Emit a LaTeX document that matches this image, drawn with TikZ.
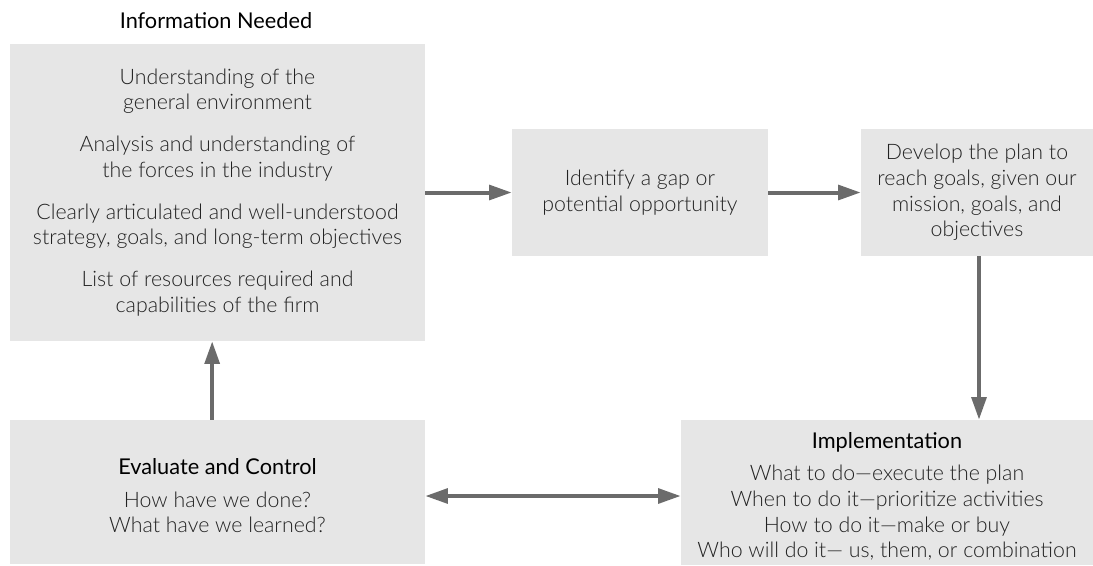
\documentclass[tikz,border=0pt]{standalone}
\usepackage{fontspec}
\setmainfont{Lato}[UprightFont={* Light},BoldFont={*}]
\usetikzlibrary{arrows.meta}
\definecolor{boxfill}{HTML}{E6E6E6}
\definecolor{arrowgray}{HTML}{6B6B6B}
\definecolor{txt}{HTML}{222222}
\tikzset{
  box/.style={fill=boxfill, draw=none, inner sep=0pt, align=center, text=txt,
    font=\fontsize{16pt}{19.2pt}\selectfont},
  flow/.style={draw=arrowgray, line width=3pt, -{Triangle[length=17pt,width=11pt]}},
  flowboth/.style={draw=arrowgray, line width=3pt, {Triangle[length=17pt,width=11pt]}-{Triangle[length=17pt,width=11pt]}},
  heading/.style={font=\fontsize{16.3pt}{19.2pt}\selectfont\bfseries, text=black}
}
\newcommand{\hd}[1]{{\fontsize{16.3pt}{19.2pt}\selectfont\bfseries\color{black}\rule{0pt}{18pt}#1}}
\begin{document}
\begin{tikzpicture}[x=0.75pt,y=-0.75pt]
\useasboundingbox (0,0) rectangle (1093,565);
\node[heading] (title) at (216,21) {Information Needed};
\node[box, minimum width=311.25pt, minimum height=222.75pt] (info) at (217.5,192.5)
 {Understanding of the\\ general environment\\[12.3pt]
  Analysis and understanding of\\ the forces in the industry\\[12.3pt]
  Clearly articulated and well-understood\\ strategy, goals, and long-term objectives\\[12.3pt]
  List of resources required and\\ capabilities of the firm};
\node[box, minimum width=192pt, minimum height=95.25pt] (gap) at (640,192.5)
 {Identify a gap or\\ potential opportunity};
\node[box, minimum width=174pt, minimum height=95.25pt] (plan) at (977,192.5)
 {Develop the plan to\\ reach goals, given our\\ mission, goals, and\\ objectives};
\node[box, minimum width=309pt, minimum height=108.75pt] (impl) at (887,492.5)
 {\hd{Implementation}\\[5pt]
  What to do—execute the plan\\
  When to do it—prioritize activities\\
  How to do it—make or buy\\
  Who will do it— us, them, or combination};
\node[box, minimum width=311.25pt, minimum height=108pt] (eval) at (217.5,492)
 {\hd{Evaluate and Control}\\[5pt]
  How have we done?\\
  What have we learned?};
\draw[flow] (info.east |- gap.west) -- (gap.west);
\draw[flow] (gap.east) -- (plan.west);
\draw[flow] ([xshift=1.5pt]plan.south) -- ([xshift=1.5pt]plan.south |- impl.north);
\draw[flow] ([xshift=-4pt]eval.north) -- ([xshift=-4pt]eval.north |- info.south);
\draw[flowboth] ([yshift=-3pt]eval.east) -- ([yshift=-3pt]eval.east -| impl.west);
\end{tikzpicture}
\end{document}
